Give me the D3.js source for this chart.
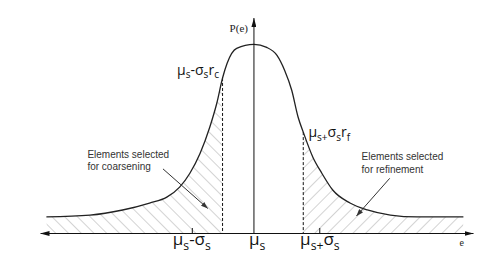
<!DOCTYPE html>
<html>
<head>
<meta charset="utf-8">
<script src="https://cdn.jsdelivr.net/npm/d3@7"></script>
<style>
  body { margin: 0; background: #fff; }
  svg { display: block; }
</style>
</head>
<body>
<div id="chart"></div>
<script>
// curve (e in units of sigma, P relative to the peak)
const curveE = [-3.24, -2.56, -2.05, -1.63, -1.36, -1.16, -1.0, -0.84, -0.69, -0.58, -0.49, -0.42, -0.27, 0,
                0.2, 0.36, 0.48, 0.59, 0.69, 0.77, 0.92, 1.06, 1.23, 1.5, 1.77, 2.13, 2.55, 3.27];
const curveP = [0.086, 0.095, 0.122, 0.159, 0.19, 0.243, 0.317, 0.423, 0.561, 0.688, 0.822, 0.899, 0.979, 1.0,
                0.984, 0.942, 0.862, 0.757, 0.614, 0.535, 0.402, 0.317, 0.228, 0.159, 0.122, 0.095, 0.085, 0.085];

// cut points (dashed lines) and sigma ticks
const cutE = [-0.49, 0.77];
const cutP = [0.822, 0.535];
const tickE = [-0.97, 1.02];

// label parts: [text, isSubscript]
const bottomLabels = [
  {e: -0.97, parts: [["μ", 0], ["s", 1], ["-σ", 0], ["s", 1]]},
  {e: 0.05,  parts: [["μ", 0], ["s", 1]]},
  {e: 1.03,  parts: [["μ", 0], ["s+", 1], ["σ", 0], ["s", 1]]}
];
const cutLabels = [
  {e: -1.2, P: 0.84, parts: [["μ", 0], ["s", 1], ["-σ", 0], ["s", 1], ["r", 0], ["c", 1]]},
  {e: 0.85, P: 0.51, parts: [["μ", 0], ["s+", 1], ["σ", 0], ["s", 1], ["r", 0], ["f", 1]]}
];
const notes = [
  {e: -2.6, P: 0.40, lines: ["Elements selected", "for coarsening"], from: [-1.42, 0.34], to: [-0.72, 0.13]},
  {e: 1.68, P: 0.385, lines: ["Elements selected", "for refinement"], from: [2.12, 0.29], to: [1.6, 0.09]}
];

const width = 480, height = 259;

const svg = d3.select("#chart")
  .append("svg")
    .attr("width", width)
    .attr("height", height);

const x = d3.scaleLinear().domain([-3.34, 3.42]).range([40, 473]);
const y = d3.scaleLinear().domain([0, 1.14]).range([233, 18]);

const defs = svg.append("defs");

// hatch patterns
const hatch = (id, angle) => {
  const p = defs.append("pattern")
    .attr("id", id)
    .attr("patternUnits", "userSpaceOnUse")
    .attr("width", 9)
    .attr("height", 9)
    .attr("patternTransform", `rotate(${angle})`);
  p.append("line")
    .attr("x1", 0).attr("y1", 0)
    .attr("x2", 0).attr("y2", 9)
    .attr("stroke", "#a8a8a8")
    .attr("stroke-width", 1);
};
hatch("hatch-left", -45);
hatch("hatch-right", 45);

// arrow heads
const marker = (id, color, len, w) => {
  defs.append("marker")
    .attr("id", id)
    .attr("viewBox", `0 ${-w} ${len} ${2 * w}`)
    .attr("refX", len)
    .attr("refY", 0)
    .attr("markerUnits", "userSpaceOnUse")
    .attr("markerWidth", len)
    .attr("markerHeight", 2 * w)
    .attr("orient", "auto-start-reverse")
  .append("path")
    .attr("d", `M0,${-w}L${len},0L0,${w}Z`)
    .attr("fill", color);
};
marker("axis-arrow", "#111", 9, 2.5);
marker("note-arrow", "#333", 7, 2.5);

const points = curveE.map((e, i) => [e, curveP[i]]);

// hatched regions under the tails
const area = d3.area()
  .x(d => x(d[0]))
  .y0(y(0))
  .y1(d => y(d[1]))
  .curve(d3.curveMonotoneX);

const regions = [
  {id: "clip-left", x0: curveE[0], x1: cutE[0], fill: "url(#hatch-left)"},
  {id: "clip-right", x0: cutE[1], x1: curveE[curveE.length - 1], fill: "url(#hatch-right)"}
];
regions.forEach(r => {
  defs.append("clipPath")
    .attr("id", r.id)
  .append("rect")
    .attr("x", x(r.x0))
    .attr("y", 0)
    .attr("width", x(r.x1) - x(r.x0))
    .attr("height", height);
  svg.append("path")
    .datum(points)
    .attr("d", area)
    .attr("fill", r.fill)
    .attr("clip-path", `url(#${r.id})`);
});

// dashed cut lines
svg.selectAll(".cut")
  .data(cutE)
  .enter()
  .append("line")
    .attr("class", "cut")
    .attr("x1", d => x(d))
    .attr("x2", d => x(d))
    .attr("y1", (d, i) => y(cutP[i]))
    .attr("y2", y(0))
    .attr("stroke", "#111")
    .attr("stroke-width", 1)
    .attr("stroke-dasharray", "3,2");

// the curve
const line = d3.line()
  .x(d => x(d[0]))
  .y(d => y(d[1]))
  .curve(d3.curveMonotoneX);

svg.append("path")
  .datum(points)
  .attr("d", line)
  .attr("fill", "none")
  .attr("stroke", "#222")
  .attr("stroke-width", 1.3);

// horizontal axis with ticks pointing up
const xAxis = svg.append("g")
  .attr("transform", `translate(0,${y(0)})`)
  .call(d3.axisBottom(x).tickValues(tickE).tickSizeInner(-5).tickSizeOuter(0).tickFormat(""));
xAxis.select(".domain")
  .attr("stroke", "#111")
  .attr("marker-start", "url(#axis-arrow)")
  .attr("marker-end", "url(#axis-arrow)");
xAxis.selectAll(".tick line").attr("stroke", "#111");

// vertical axis
svg.append("line")
  .attr("x1", x(0)).attr("x2", x(0))
  .attr("y1", y(0)).attr("y2", y(1.14))
  .attr("stroke", "#111")
  .attr("stroke-width", 1)
  .attr("marker-end", "url(#axis-arrow)");

svg.append("text")
  .attr("x", x(0) - 6)
  .attr("y", 32)
  .attr("text-anchor", "end")
  .attr("font-family", "Liberation Serif, serif")
  .attr("font-size", 11)
  .attr("fill", "#222")
  .text("P(e)");

svg.append("text")
  .attr("x", x(3.21))
  .attr("y", 246)
  .attr("font-family", "Liberation Serif, serif")
  .attr("font-size", 10)
  .attr("fill", "#222")
  .text("e");

// greek labels with subscripts
const greek = (sel, parts, size) => {
  const shift = size * 0.28;
  let down = false;
  parts.forEach(([t, sub]) => {
    const ts = sel.append("tspan").text(t);
    if (sub) {
      ts.attr("font-size", size * 0.72);
      if (!down) { ts.attr("dy", shift); down = true; }
    } else {
      if (down) { ts.attr("dy", -shift); down = false; }
    }
  });
};

bottomLabels.forEach(l => {
  const t = svg.append("text")
    .attr("x", x(l.e))
    .attr("y", 245)
    .attr("text-anchor", "middle")
    .attr("font-family", "Open Sans, sans-serif")
    .attr("font-size", 17)
    .attr("fill", "#111");
  greek(t, l.parts, 17);
});

cutLabels.forEach(l => {
  const t = svg.append("text")
    .attr("x", x(l.e))
    .attr("y", y(l.P))
    .attr("font-family", "Open Sans, sans-serif")
    .attr("font-size", 14)
    .attr("fill", "#111");
  greek(t, l.parts, 14);
});

// annotations
notes.forEach(n => {
  const t = svg.append("text")
    .attr("x", x(n.e))
    .attr("y", y(n.P))
    .attr("font-family", "Liberation Sans, Arial, sans-serif")
    .attr("font-size", 10)
    .attr("fill", "#333");
  n.lines.forEach((s, i) => {
    t.append("tspan")
      .attr("x", x(n.e))
      .attr("dy", i === 0 ? 0 : 12.5)
      .text(s);
  });
  svg.append("line")
    .attr("x1", x(n.from[0])).attr("y1", y(n.from[1]))
    .attr("x2", x(n.to[0])).attr("y2", y(n.to[1]))
    .attr("stroke", "#333")
    .attr("stroke-width", 1)
    .attr("marker-end", "url(#note-arrow)");
});
</script>
</body>
</html>
